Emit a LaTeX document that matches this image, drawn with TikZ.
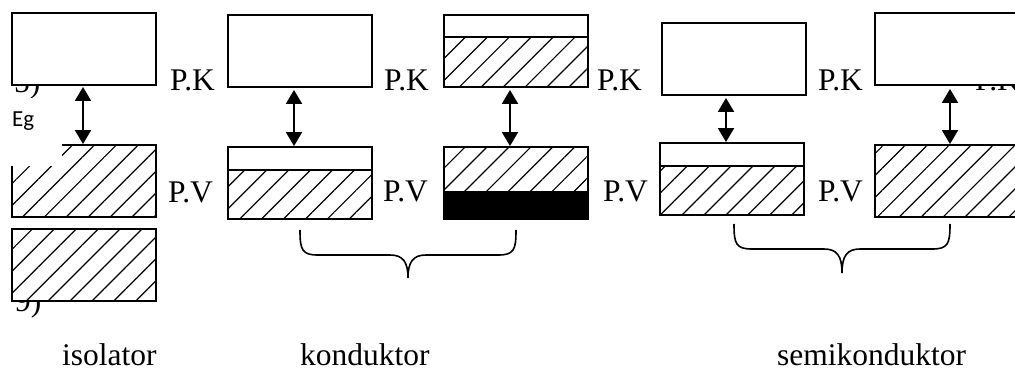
\documentclass[tikz,border=0pt]{standalone}
\usepackage{fontspec}
\setmainfont{Liberation Serif}
\newfontfamily\egfont{Carlito}
\usetikzlibrary{arrows.meta,patterns.meta}

\begin{document}
\begin{tikzpicture}[x=1pt, y=-1pt, >={Triangle[length=14pt,width=16pt]},
  every node/.style={font=\fontsize{31.5}{36}\selectfont, inner sep=0pt},
  band/.style={draw, line width=1.9pt, fill=white, minimum width=144pt, minimum height=72pt},
  hatched/.style={pattern={Lines[angle=45, distance=15.5pt, line width=1.2pt]}},
  gap/.style={<->, line width=2pt},
  brace/.style={line width=1.6pt},
  gaplabel/.style={anchor=base west, font=\egfont\fontsize{23}{27}\selectfont}]
  \clip (0,0) rectangle (1015,371);

  % labels partly hidden under the bands
  \node[anchor=base west] (n5) at (14,93) {5)};
  \node[anchor=base west] (n9) at (15,312) {9)};
  \node[anchor=base west] (pk5) at (975,91) {P.K};

  % isolator
  \node[band] (i1t) at (84,49) {};
  \node[band, postaction={hatched}] (i1b) at (84,181) {};
  \node[band, postaction={hatched}] (i2) at (84,265) {};
  \draw[gap] ([xshift=-1pt,yshift=-1pt]i1t.south) -- ([xshift=-1pt]i1b.north);
  \fill[white] (10,98) rectangle (62,166);
  \node[gaplabel] (eg) at (12,127) {Eg};
  \node[anchor=base west] (pk1) at (170,91) {P.K};
  \node[anchor=base west] (pv1) at (168,203) {P.V};

  % konduktor
  \node[band] (k1t) at (300,51) {};
  \node[band] (k1b) at (300,183) {};
  \path[hatched] ([yshift=-24pt]k1b.north west) rectangle (k1b.south east);
  \draw[line width=1.9pt] ([yshift=-24pt]k1b.north west) -- ([yshift=-24pt]k1b.north east);
  \draw[gap] ([xshift=-6pt,yshift=-2pt]k1t.south) -- ([xshift=-6pt]k1b.north);
  \node[anchor=base west] (pk2) at (384,91) {P.K};
  \node[anchor=base west] (pv2) at (383,202) {P.V};

  \node[band] (k2t) at (516,51) {};
  \path[hatched] ([yshift=-23pt]k2t.north west) rectangle (k2t.south east);
  \draw[line width=1.9pt] ([yshift=-23pt]k2t.north west) -- ([yshift=-23pt]k2t.north east);
  \node[band] (k2b) at (516,183) {};
  \path[hatched] (k2b.north west) rectangle ([yshift=-45pt]k2b.north east);
  \fill ([yshift=-45pt]k2b.north west) rectangle (k2b.south east);
  \draw[gap] ([xshift=-6pt,yshift=-2pt]k2t.south) -- ([xshift=-6pt]k2b.north);
  \node[anchor=base west] (pk3) at (597,91) {P.K};
  \node[anchor=base west] (pv3) at (603,202) {P.V};

  % semikonduktor
  \node[band] (s1t) at (734,59) {};
  \node[band] (s1b) at (732,179) {};
  \path[hatched] ([yshift=-24pt]s1b.north west) rectangle (s1b.south east);
  \draw[line width=1.9pt] ([yshift=-24pt]s1b.north west) -- ([yshift=-24pt]s1b.north east);
  \draw[gap] ([xshift=-8pt,yshift=-2pt]s1t.south) -- ([xshift=-6pt]s1b.north);
  \node[anchor=base west] (pk4) at (818,91) {P.K};
  \node[anchor=base west] (pv4) at (818,202) {P.V};

  \node[band] (s2t) at (947,49) {};
  \node[band, postaction={hatched}] (s2b) at (947,181) {};
  \draw[gap] ([xshift=3pt,yshift=-3pt]s2t.south) -- ([xshift=3pt]s2b.north);

  % braces
  \draw[brace] (300,230) .. controls (300,250) and (302,255) .. (318,255) -- (390,255)
    .. controls (403,255) and (408,262) .. (408,278) .. controls (408,262) and (413,255) .. (426,255)
    -- (498,255) .. controls (514,255) and (516,250) .. (516,230);
  \draw[brace] (734,224) .. controls (734,244) and (736,249) .. (752,249) -- (824,249)
    .. controls (837,249) and (842,256) .. (842,273) .. controls (842,256) and (847,249) .. (860,249)
    -- (932,249) .. controls (948,249) and (950,244) .. (950,224);

  % names
  \node[anchor=base west] (iso) at (62,366) {isolator};
  \node[anchor=base west] (kon) at (300,366) {konduktor};
  \node[anchor=base west] (semi) at (777,366) {semikonduktor};
\end{tikzpicture}
\end{document}
